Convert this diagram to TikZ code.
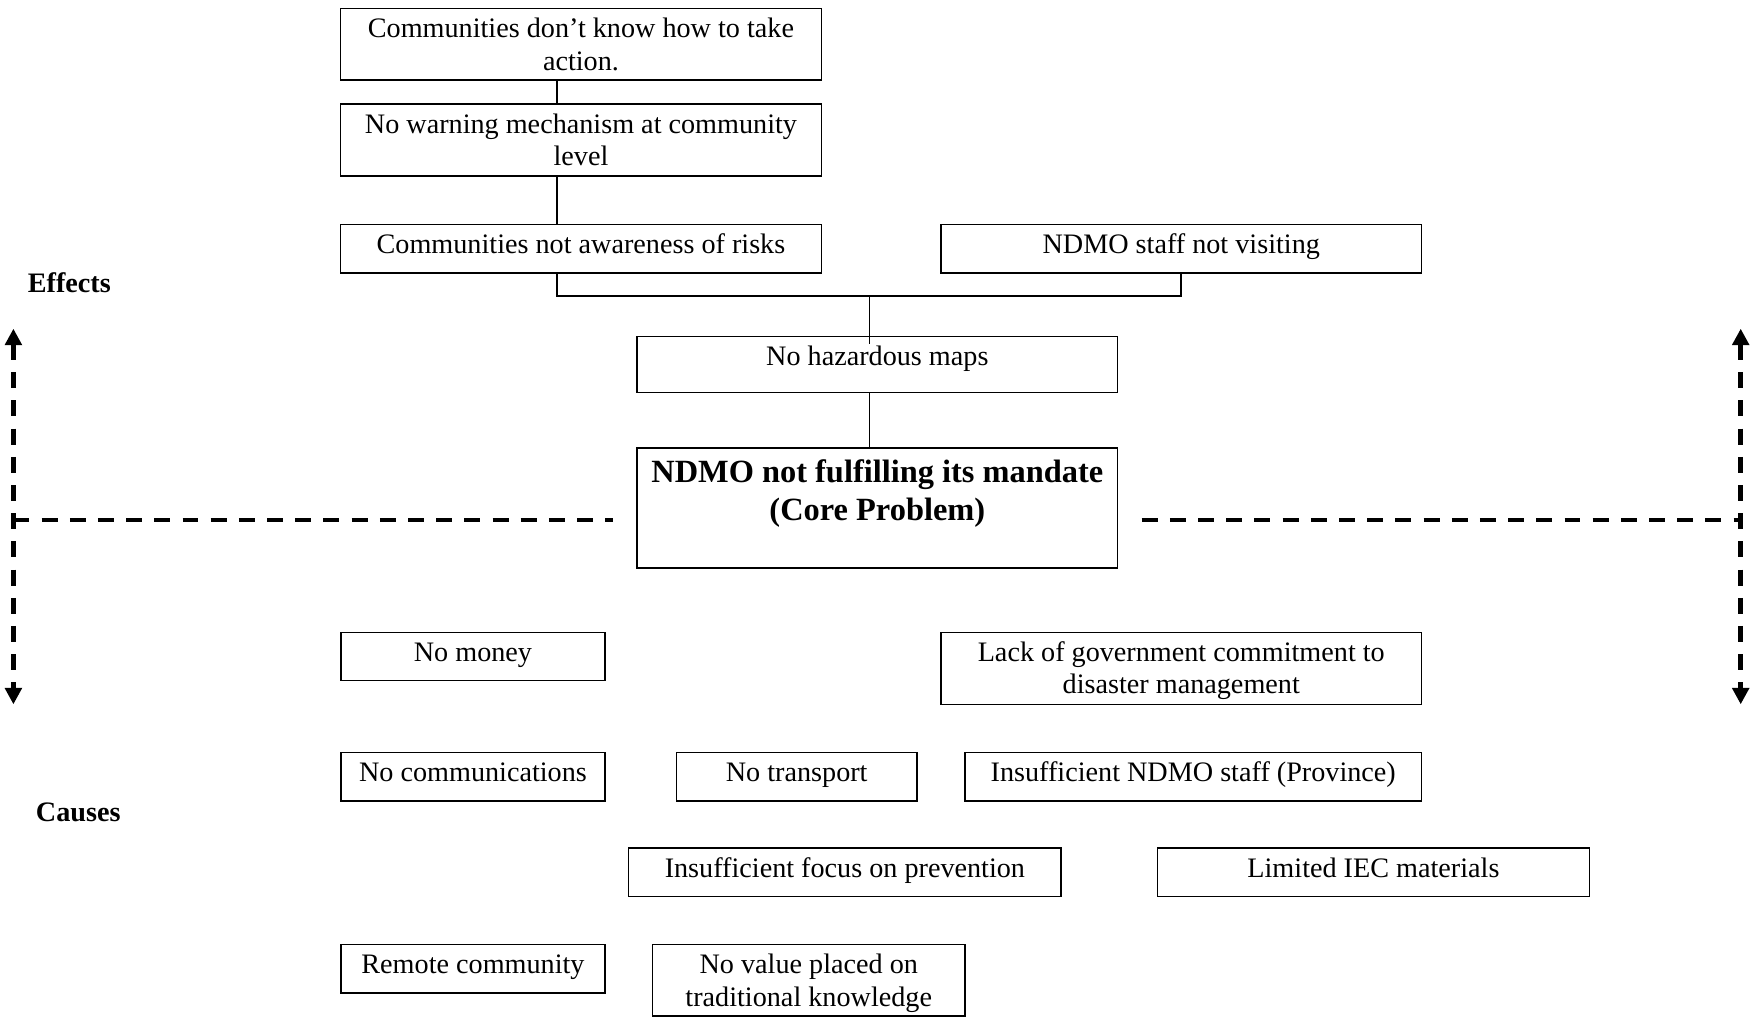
\documentclass[tikz,border=0pt]{standalone}
\usepackage{fontspec}
\setmainfont{Liberation Serif}
\usetikzlibrary{fit,arrows.meta}

% box with its text set from the top edge
\newcommand\probbox[6]{%
  \node[cbox, fit={(#2,#3) (#4,#5)}] (#1) {};
  \node[ctext] (#1-t) at ([yshift=-3.1pt]#1.north) {\rule{0pt}{9.5pt}#6};}

\begin{document}
\begin{tikzpicture}[x=0.476pt, y=-0.476pt,
  cbox/.style={draw, line width=0.7pt, inner sep=0pt},
  ctext/.style={anchor=north, inner sep=0pt, align=center, font=\fontsize{12}{13.8}\selectfont},
  coretext/.style={anchor=north, inner sep=0pt, align=center, font=\fontsize{13.8}{16.2}\selectfont\bfseries},
  link/.style={line width=0.7pt},
  axisline/.style={line width=1.9pt, dash pattern=on 6.8pt off 5.2pt},
  tip/.style={{Triangle[length=7pt,width=7pt]}-{Triangle[length=7pt,width=7pt]}},
  side/.style={font=\fontsize{12}{13.8}\selectfont\bfseries, inner sep=0pt}]

\useasboundingbox (0,0) rectangle (1568,910);

% effects
\probbox{act}{304.5}{7.5}{734.8}{71.6}{Communities don’t know how to take\\action.}
\probbox{warn}{304.5}{93}{734.8}{157.4}{No warning mechanism at community\\level}
\probbox{aware}{304.5}{200.7}{734.8}{243.9}{Communities not awareness of risks}
\probbox{visit}{841.7}{200.7}{1271.5}{243.9}{NDMO staff not visiting}
\probbox{maps}{570}{301}{999.5}{351.2}{No hazardous maps}

% core problem
\node[cbox, fit={(570,401) (999.5,508.3)}] (core) {};
\node[coretext] (core-t) at ([yshift=-3.5pt]core.north)
  {\rule{0pt}{11pt}NDMO not fulfilling its mandate\\(Core Problem)};

% causes
\probbox{money}{304.8}{565.6}{541.3}{608.8}{No money}
\probbox{commit}{841.7}{565.6}{1271.5}{630.3}{Lack of government commitment to\\disaster management}
\probbox{comms}{304.8}{673}{541.3}{716.5}{No communications}
\probbox{transport}{605}{673}{820.3}{716.5}{No transport}
\probbox{staff}{863.2}{673}{1271.5}{716.5}{Insufficient NDMO staff (Province)}
\probbox{focus}{562.2}{758.5}{949.3}{802}{Insufficient focus on prevention}
\probbox{iec}{1035.3}{758.5}{1421.7}{802}{Limited IEC materials}
\probbox{remote}{304.8}{844.7}{541.3}{888.2}{Remote community}
\probbox{trad}{583.6}{844.7}{863.2}{909}{No value placed on\\traditional knowledge}

% connectors of the effects tree
\coordinate (spine) at (498.3,0);
\coordinate (join) at (777.7,264.8);
\draw[link] (act.south -| spine) -- (warn.north -| spine);
\draw[link] (warn.south -| spine) -- (aware.north -| spine);
\draw[link] (aware.south -| spine) |- (join) -| (visit.south);
\draw[link] (join) -- ++(0,43);
\draw[link] (maps.south -| join) -- (core.north -| join);

% side labels
\node[side] (effects) at (62,253) {Effects};
\node[side] (causes) at (70,727) {Causes};

% dashed axes
\coordinate (ltop) at (12,294);
\coordinate (lbot) at (12,630);
\coordinate (rtop) at (1557,294);
\coordinate (rbot) at (1557,630);
\coordinate (lmid) at (12,465);
\coordinate (rmid) at (1557,465);
\draw[axisline, tip] (ltop) -- (lbot);
\draw[axisline, tip] (rtop) -- (rbot);
\draw[axisline] (lmid) -- ([xshift=-10pt]core.west |- lmid);
\draw[axisline] ([xshift=10pt]core.east |- rmid) -- (rmid);
\end{tikzpicture}
\end{document}
